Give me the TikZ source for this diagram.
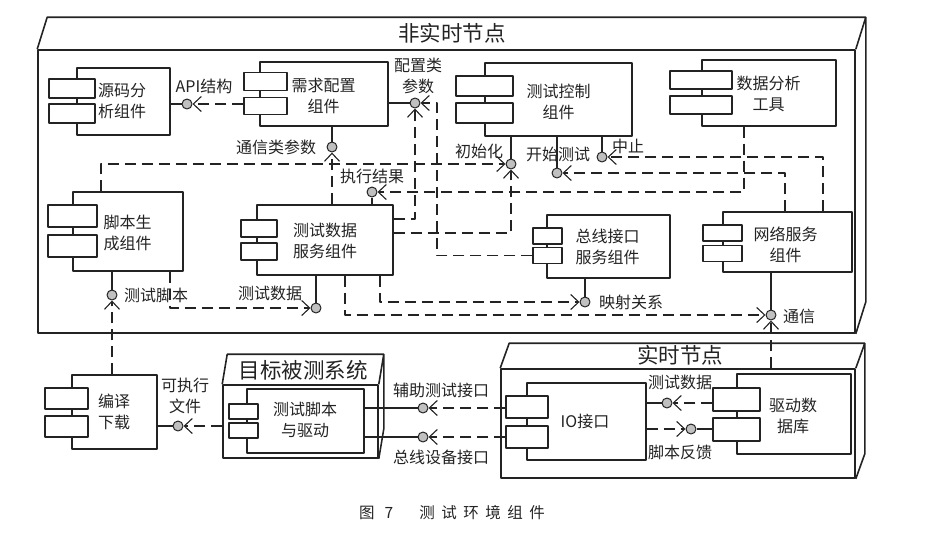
\documentclass[tikz,border=0pt]{standalone}
\usepackage{fontspec}
\setmainfont{Noto Sans CJK SC}
\usetikzlibrary{arrows.meta}
\definecolor{ink}{RGB}{35,35,35}
\definecolor{ballgray}{RGB}{192,192,192}
\tikzset{
  comp/.style={draw=ink,line width=1.1pt,fill=white,inner sep=0},
  port/.style={draw=ink,line width=1.1pt,fill=white,inner sep=0},
  box/.style={draw=ink,line width=1.6pt,inner sep=0},
  ball/.style={circle,draw=ink,line width=1pt,fill=ballgray,minimum size=10,inner sep=0},
  link/.style={draw=ink,line width=1.1pt},
  dep/.style={draw=ink,line width=1.1pt,dash pattern=on 11pt off 6pt,-{Straight Barb[length=8pt,width=15pt]}},
  txt/.style={inner sep=0,align=center,text=ink,font=\fontsize{16}{21}\selectfont},
  ttl/.style={inner sep=0,text=ink,font=\fontsize{21.5}{24}\selectfont},
}
\newcommand{\nodeslab}[3]{\draw[box] (#1.north west) -- ++(#2,#3) -- ([shift={(#2,#3)}]#1.north east) -- ([shift={(#2,#3)}]#1.south east) -- (#1.south east) (#1.north east) -- ++(#2,#3);}
\begin{document}
\begin{tikzpicture}[x=1pt,y=-1pt,line join=round]
\useasboundingbox (0,0) rectangle (932,536);
\node[box,minimum width=817,minimum height=283] (nrt) at (446.5,191.5) {};
\nodeslab{nrt}{10}{-32}
\node[ttl] (nrt-t) at (452,33) {非实时节点};
\node[box,minimum width=155,minimum height=73] (sut) at (300.5,421.5) {};
\nodeslab{sut}{5}{-30}
\node[ttl] (sut-t) at (303,370) {目标被测系统};
\node[box,minimum width=354,minimum height=109] (rt) at (678,423.5) {};
\nodeslab{rt}{9}{-25}
\node[ttl] (rt-t) at (680,355) {实时节点};
\foreach \nm/\cx/\cy/\w/\h/\px/\pw/\pa/\pb/\ph in {
  src/123.5/101.5/93/67/72/46/88.5/113.5/19,
  req/324/94/128/64/265.5/43/81.5/106/17.5,
  ctl/558.5/99.5/147/73/484.5/57/86/113/20,
  ana/769/93/134/66/701/62/80/105/18,
  gen/128/231.5/110/79/72.5/49/216/246/22,
  dat/325/240/136/70/259/36/228.5/251.5/17,
  bus/608.5/246.5/123/63/547.5/29/236/255.5/16,
  net/787.5/242/129/60/722.5/39/233/253.5/16,
  cmp/114.5/412/85/74/66.5/43/398.5/426.5/21,
  drv/305.5/421/117/64/243.5/29/411.5/430.5/15,
  io/586.5/421.5/119/77/527/42/407/437/22,
  db/794/414/114/80/736.5/47/399.5/429.5/23}{
  \node[comp,minimum width=\w,minimum height=\h] (\nm) at (\cx,\cy) {};
  \node[port,minimum width=\pw,minimum height=\ph] (\nm-a) at (\px,\pa) {};
  \node[port,minimum width=\pw,minimum height=\ph] (\nm-b) at (\px,\pb) {};
}
\foreach \nm/\tx/\ty/\t in {src/122/101/{源码分\\析组件},req/323.5/95.5/{需求配置\\组件},
  ctl/558.5/101.5/{测试控制\\组件},ana/768.5/94/{数据分析\\工具},gen/127.5/232.5/{脚本生\\成组件},
  dat/325/240.5/{测试数据\\服务组件},bus/607.5/247/{总线接口\\服务组件},net/785.5/245/{网络服务\\组件},
  cmp/114/411.5/{编译\\下载},drv/305/419.5/{测试脚本\\与驱动},io/585/421/{IO接口},db/793/415.5/{驱动数\\据库}}{
  \node[txt] (\nm-t) at (\tx,\ty) {\t};
}
\foreach \nm/\bx/\by in {api/187/104,comm/332/147,cfg/415/103,res/372/192,ini/511/164,sta/557/173,
  stp/602/157,scr/112/295,tdb/316/308,map/585/302,com/771/315,exe/178/426,aux/423/408,bdi/423/437,
  tdr/667/403,fbk/691/429}{
  \node[ball] (\nm) at (\bx,\by) {};
}
\draw[link] (api -| src.east) -- (api);
\draw[link] (comm |- req.south) -- (comm);
\draw[link] (cfg -| req.east) -- (cfg);
\draw[link] (res |- dat.north) -- (res);
\draw[link] (ini |- ctl.south) -- (ini);
\draw[link] (sta |- ctl.south) -- (sta);
\draw[link] (stp |- ctl.south) -- (stp);
\draw[link] (scr |- gen.south) -- (scr);
\draw[link] (tdb |- dat.south) -- (tdb);
\draw[link] (map |- bus.south) -- (map);
\draw[link] (com |- net.south) -- (com);
\draw[link] (exe -| cmp.east) -- (exe);
\draw[link] (aux -| drv.east) -- (aux);
\draw[link] (bdi -| drv.east) -- (bdi);
\draw[link] (tdr -| io.east) -- (tdr);
\draw[link] (fbk -| db-b.west) -- (fbk);
\draw[dep] (api -| req-b.west) -- (api);
\draw[dep] (comm |- dat.north) -- (comm);
\draw[dep] ([yshift=21pt]dat.east) -| (cfg);
\draw[dep] (bus-b.west) -| ([xshift=22pt]cfg.center) -- (cfg);
\draw[dep] ([xshift=-25pt]ana.south) |- (res);
\draw[dep] ([xshift=-27pt]gen.north) |- (ini);
\draw[dep] ([yshift=7pt]dat.east) -| (ini);
\draw[dep] ([xshift=-2.5pt]net.north) |- (sta);
\draw[dep] ([xshift=35.5pt]net.north) |- (stp);
\draw[dep] (scr |- cmp.north) -- (scr);
\draw[dep] ([xshift=42pt]gen.south) |- (tdb);
\draw[dep] ([xshift=55pt]dat.south) |- (map);
\draw[dep] ([xshift=20pt]dat.south) |- (com);
\draw[dep] (com |- rt.north) -- (com);
\draw[dep] (exe -| sut.west) -- (exe);
\draw[dep] (aux -| io-a.west) -- (aux);
\draw[dep] (bdi -| io-b.west) -- (bdi);
\draw[dep] (tdr -| db-a.west) -- (tdr);
\draw[dep] (fbk -| io.east) -- (fbk);
\foreach \nm/\tx/\ty/\t in {api/204/86/{API结构},comm/276/147/{通信类参数},cfg/418/76/{配置类\\参数},
  res/372/176/{执行结果},ini/479/151/{初始化},sta/558/154/{开始测试},stp/628/146/{中止},
  scr/156/295/{测试脚本},tdb/270/293/{测试数据},map/631/302/{映射关系},com/799/316/{通信},
  exe/185/396/{可执行\\文件},aux/441/390/{辅助测试接口},bdi/441/457/{总线设备接口},
  tdr/680/382/{测试数据},fbk/680/452/{脚本反馈}}{
  \node[txt] (\nm-l) at (\tx,\ty) {\t};
}
\node[txt,font=\fontsize{15.5}{18}\selectfont] (cap) at (452,513) {图\hspace{10pt}7\hspace{26pt}测\hspace{6.5pt}试\hspace{6.5pt}环\hspace{6.5pt}境\hspace{6.5pt}组\hspace{6.5pt}件};
\end{tikzpicture}
\end{document}
